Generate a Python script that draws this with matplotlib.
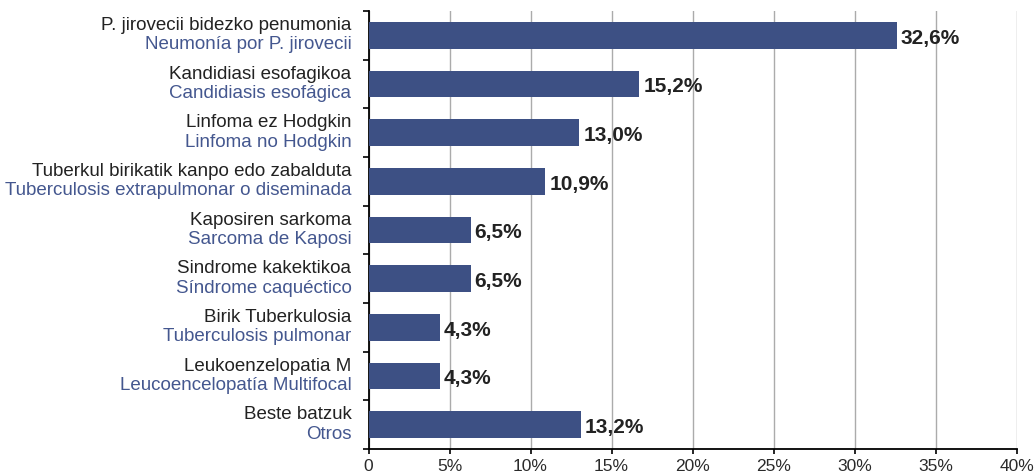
import matplotlib
matplotlib.use("Agg")
import matplotlib.pyplot as plt
from matplotlib.ticker import FixedLocator

plt.rcParams['font.family'] = ['Liberation Sans', 'DejaVu Sans']

labels_eu = ["P. jirovecii bidezko penumonia", "Kandidiasi esofagikoa", "Linfoma ez Hodgkin",
             "Tuberkul birikatik kanpo edo zabalduta", "Kaposiren sarkoma", "Sindrome kakektikoa",
             "Birik Tuberkulosia", "Leukoenzelopatia M", "Beste batzuk"]
labels_es = ["Neumonía por P. jirovecii", "Candidiasis esofágica", "Linfoma no Hodgkin",
             "Tuberculosis extrapulmonar o diseminada", "Sarcoma de Kaposi", "Síndrome caquéctico",
             "Tuberculosis pulmonar", "Leucoencelopatía Multifocal", "Otros"]
# bar lengths as drawn in the reference
values = [32.6, 16.7, 13.0, 10.9, 6.3, 6.3, 4.4, 4.4, 13.1]
value_labels = ["32,6%", "15,2%", "13,0%", "10,9%", "6,5%", "6,5%", "4,3%", "4,3%", "13,2%"]
xticks = [0, 5, 10, 15, 20, 25, 30, 35, 40]
xtick_labels = ["0", "5%", "10%", "15%", "20%", "25%", "30%", "35%", "40%"]

bar_color = "#3D5084"
blue_text = "#44578F"
dark = "#222222"

fig = plt.figure(figsize=(10.35, 4.75), dpi=100)
ax = fig.add_axes([368.5/1035, 1-449/475, (1016.5-368.5)/1035, (449-11)/475])

n = len(values)
ypos = list(range(n))
ax.barh(ypos, values, height=0.55, color=bar_color, zorder=3)
ax.set_ylim(n - 0.5, -0.5)
ax.set_xlim(0, 40)

ax.set_xticks(xticks)
ax.set_xticklabels(xtick_labels, fontsize=12.5, color="#2a2a2a")
ax.yaxis.set_major_locator(FixedLocator([i - 0.5 for i in range(n + 1)]))
ax.set_yticklabels([])
ax.tick_params(axis='y', length=4.5, width=1.2, direction='out', color='black')
ax.tick_params(axis='x', length=3.5, width=1.2, direction='out', color='black', pad=4)

ax.grid(axis='x', color='#ABABAB', linewidth=1, zorder=0)
ax.set_axisbelow(True)
for s in ['top', 'right']:
    ax.spines[s].set_visible(False)
ax.spines['left'].set_linewidth(1.3)
ax.spines['bottom'].set_linewidth(1.3)

for i, (v, lab) in enumerate(zip(values, value_labels)):
    ax.annotate(lab, xy=(v, i), xytext=(3, -6), textcoords='offset points',
                ha='left', va='baseline', fontsize=15, fontweight='bold', color=dark)

for i, (eu, es) in enumerate(zip(labels_eu, labels_es)):
    ax.annotate(eu, xy=(0, i), xycoords=('axes fraction', 'data'), xytext=(-12.3, 3.8),
                textcoords='offset points', ha='right', va='baseline', fontsize=13.5, color=dark)
    ax.annotate(es, xy=(0, i), xycoords=('axes fraction', 'data'), xytext=(-12.3, -10),
                textcoords='offset points', ha='right', va='baseline', fontsize=13.5, color=blue_text)

fig.savefig("out.png", dpi=100)
